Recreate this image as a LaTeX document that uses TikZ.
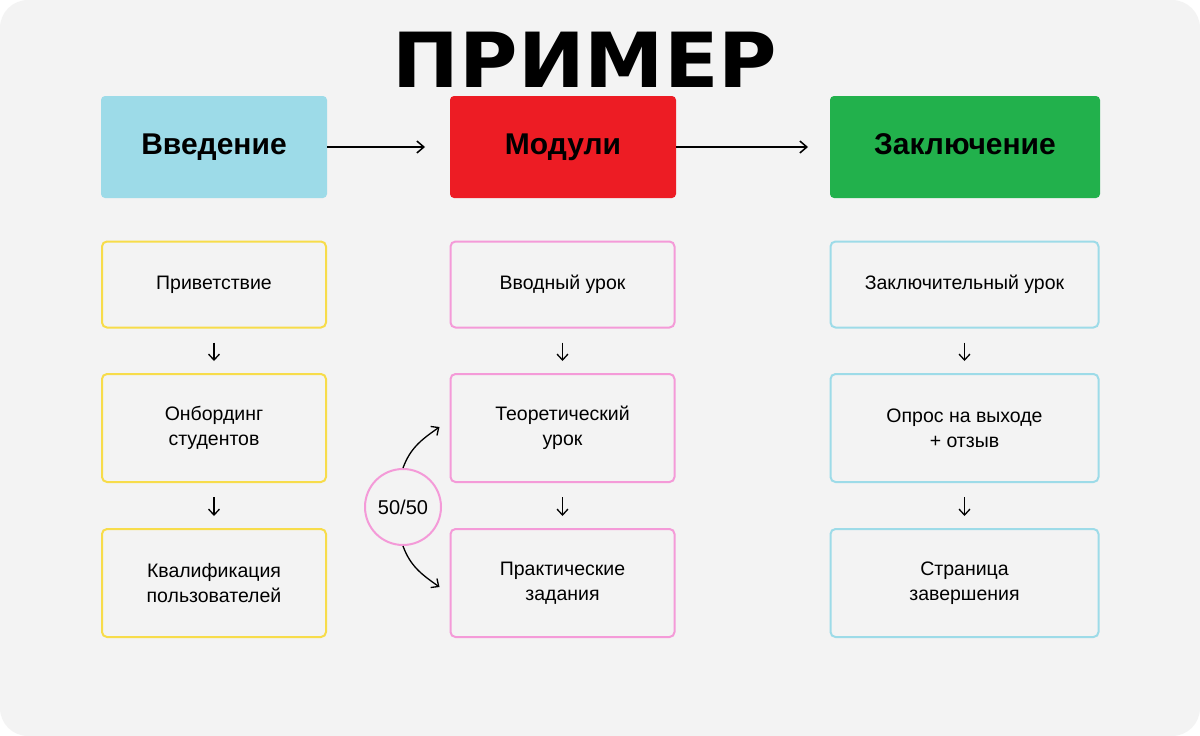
\documentclass[tikz,border=0pt]{standalone}
\usepackage{fontspec}
\setmainfont{Liberation Sans}
\newfontfamily\titlefont{DejaVu Sans}
\usetikzlibrary{arrows.meta}
\definecolor{bg}{HTML}{F3F3F3}
\definecolor{cblue}{HTML}{9DDBE8}
\definecolor{cred}{HTML}{ED1C24}
\definecolor{cgreen}{HTML}{22B14C}
\definecolor{cyel}{HTML}{F7DC4A}
\definecolor{cpink}{HTML}{F49AD8}
\begin{document}
\begin{tikzpicture}[x=1pt,y=-1pt,
  head/.style={minimum height=102pt,rounded corners=4pt,text height=21pt,text depth=6pt,font=\bfseries\fontsize{30}{32}\selectfont},
  item/.style={draw,line width=2pt,rounded corners=5pt,fill=bg,font=\fontsize{19.5}{25}\selectfont,align=center},
  arr/.style={-{Straight Barb[length=7pt,width=12pt]},line width=1.5pt},
  sarr/.style={-{Straight Barb[length=6pt,width=11pt]},line width=1.3pt}]
\fill[white] (0,0) rectangle (1200,736);
\useasboundingbox (0,0) rectangle (1200,736);
\fill[bg,rounded corners=28pt] (0,0) rectangle (1200,736);
\node[font=\titlefont\bfseries\fontsize{76}{76}\selectfont,xscale=1.05] (title) at (585,60) {ПРИМЕР};
\node[head,fill=cblue,minimum width=226pt] (h1) at (214,147) {Введение};
\node[head,fill=cred,minimum width=226pt] (h2) at (563,147) {Модули};
\node[head,fill=cgreen,minimum width=270pt] (h3) at (965,147) {Заключение};
\draw[arr] (h1.east) -- (425,147) coordinate (e1);
\draw[arr] (h2.east) -- (808,147) coordinate (e2);
% column 1
\node[item,draw=cyel,minimum width=224pt,minimum height=86pt] (a1) at (214,284.5) {Приветствие};
\node[item,draw=cyel,minimum width=224pt,minimum height=108pt] (a2) at (214,428) {Онбординг\\студентов};
\node[item,draw=cyel,minimum width=224pt,minimum height=108pt] (a3) at (214,583) {Квалификация\\пользователей};
% column 2
\node[item,draw=cpink,minimum width=224pt,minimum height=86pt] (b1) at (562.5,284.5) {Вводный урок};
\node[item,draw=cpink,minimum width=224pt,minimum height=108pt] (b2) at (562.5,428) {Теоретический\\урок};
\node[item,draw=cpink,minimum width=224pt,minimum height=108pt] (b3) at (562.5,583) {Практические\\задания};
% column 3
\node[item,draw=cblue,minimum width=268pt,minimum height=86pt] (c1) at (964.5,284.5) {Заключительный урок};
\node[item,draw=cblue,minimum width=268pt,minimum height=108pt] (c2) at (964.5,428) {Опрос на выходе\\+ отзыв};
\node[item,draw=cblue,minimum width=268pt,minimum height=108pt] (c3) at (964.5,583) {Страница\\завершения};
\foreach \p/\q in {a1/a2,a2/a3,b1/b2,b2/b3,c1/c2,c2/c3}{
  \draw[sarr] ([yshift=-14pt]\p.south) -- ([yshift=12pt]\q.north);
}
\node[circle,draw=cpink,line width=2pt,fill=bg,minimum size=76pt,inner sep=0pt,font=\fontsize{20}{22}\selectfont] (ff) at (403,507) {50/50};
\draw[sarr] (ff.north) to[out=70,in=215] ([xshift=-10pt]b2.west|-0,427) coordinate (t1);
\draw[sarr] (ff.south) to[out=-70,in=145] ([xshift=-10pt]b3.west|-0,587) coordinate (t2);
\end{tikzpicture}
\end{document}
